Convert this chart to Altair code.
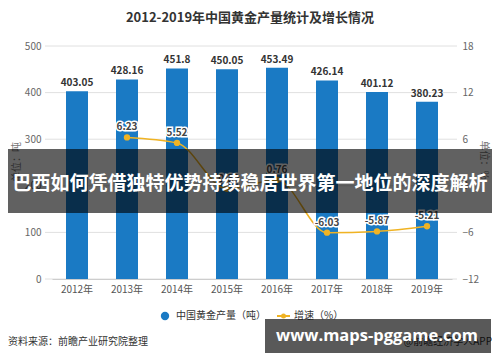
import altair as alt
import pandas as pd

years = ["2012年", "2013年", "2014年", "2015年", "2016年", "2017年", "2018年", "2019年"]
output = [403.05, 428.16, 451.8, 450.05, 453.49, 426.14, 401.12, 380.23]
output_labels = ["403.05", "428.16", "451.8", "450.05", "453.49", "426.14", "401.12", "380.23"]
growth = [None, 6.23, 5.52, -0.39, 0.76, -6.03, -5.87, -5.21]
growth_labels = ["", "6.23", "5.52", "-0.39", "0.76", "-6.03", "-5.87", "-5.21"]
left_ticks = [0, 100, 200, 300, 400, 500]
right_ticks = [-12, -6, 0, 6, 12, 18]

title_text = "2012-2019年中国黄金产量统计及增长情况"
banner_text = "巴西如何凭借独特优势持续稳居世界第一地位的深度解析"
site_text = "www.maps-pggame.com"
source_text = "资料来源：前瞻产业研究院整理"
credit_text = "@前瞻经济学人APP"
legend_bar = "中国黄金产量（吨）"
legend_line = "增速（%）"

FONT = "Noto Sans CJK SC"
BAR = "#1a7ac4"
LINE = "#f0b323"

df = pd.DataFrame({"year": years, "output": output, "olab": output_labels,
                   "growth": growth, "glab": growth_labels})
grid_df = pd.DataFrame({"v": left_ticks})

x_enc = alt.X("year:N", sort=years, title=None,
              scale=alt.Scale(paddingInner=0.56, paddingOuter=0.28),
              axis=alt.Axis(labelAngle=0, labelFontSize=10, labelColor="#555", labelFont=FONT,
                            labelPadding=5, ticks=False, domainColor="#bbb", grid=False))
yl_scale = alt.Scale(domain=[0, 500], nice=False, zero=False)
yr_scale = alt.Scale(domain=[-12, 18], nice=False, zero=False)
yl_axis = alt.Axis(values=left_ticks, title=None, ticks=False, domain=False, grid=False,
                   labelFontSize=10, labelColor="#666", labelPadding=11, labelFont=FONT)
yr_axis = alt.Axis(values=right_ticks, orient="right", title=None, ticks=False, domain=False,
                   grid=False, labelFontSize=10, labelColor="#666", labelPadding=10, labelFont=FONT)

grid = alt.Chart(grid_df).mark_rule(color="#e0e0e0", strokeWidth=1).encode(
    y=alt.Y("v:Q", scale=yl_scale, axis=yl_axis),
    x=alt.value(-7), x2=alt.value(405))

bars = alt.Chart(df).mark_bar(size=22, color=BAR).encode(
    x=x_enc, y=alt.Y("output:Q", scale=yl_scale, axis=yl_axis))

bar_labels = alt.Chart(df).mark_text(baseline="bottom", dy=-3, fontSize=10, fontWeight="bold",
                                     color="#333", font=FONT).encode(
    x=alt.X("year:N", sort=years), y=alt.Y("output:Q", scale=yl_scale, axis=yl_axis), text="olab:N")

left = alt.layer(grid, bars, bar_labels)

gdf = alt.Chart(df).transform_filter("isValid(datum.growth)")
line = gdf.mark_line(color=LINE, strokeWidth=1.5, interpolate="monotone").encode(
    x=alt.X("year:N", sort=years),
    y=alt.Y("growth:Q", scale=yr_scale, axis=yr_axis))
pts = gdf.mark_point(filled=True, size=40, color=LINE, opacity=1).encode(
    x=alt.X("year:N", sort=years), y=alt.Y("growth:Q", scale=yr_scale, axis=yr_axis))
glab_halo = gdf.mark_text(dy=-10, fontSize=10, fontWeight="bold", color="white", stroke="white",
                          strokeWidth=3, font=FONT).encode(
    x=alt.X("year:N", sort=years), y=alt.Y("growth:Q", scale=yr_scale, axis=yr_axis), text="glab:N")
glab = gdf.mark_text(dy=-10, fontSize=10, fontWeight="bold", color="#444", font=FONT).encode(
    x=alt.X("year:N", sort=years), y=alt.Y("growth:Q", scale=yr_scale, axis=yr_axis), text="glab:N")

right = alt.layer(line, pts, glab_halo, glab)

base = alt.Chart(pd.DataFrame({"a": [0]}))

def txt(s, x, y, **kw):
    return base.mark_text(font=FONT, **kw).encode(x=alt.value(x), y=alt.value(y), text=alt.value(s))

title = txt(title_text, 198, -28, fontSize=13, fontWeight="bold", color="#333", align="center")
ytitle_l = txt("单位：吨", -35, 116, fontSize=10, color="#777", angle=270, align="center", baseline="middle")
ytitle_r = txt("单位：%", 432, 114, fontSize=10, color="#777", angle=90, align="center", baseline="middle")

leg_dot = base.mark_point(filled=True, size=70, color=BAR, opacity=1).encode(
    x=alt.value(113), y=alt.value(270))
leg_t1 = txt(legend_bar, 124, 270, fontSize=10, color="#333", align="left", baseline="middle")
leg_line = base.mark_rule(color=LINE, strokeWidth=2).encode(
    x=alt.value(225), x2=alt.value(238), y=alt.value(270))
leg_pt = base.mark_point(filled=True, size=25, color=LINE, opacity=1).encode(
    x=alt.value(231.5), y=alt.value(270))
leg_t2 = txt(legend_line, 242, 270, fontSize=10, color="#333", align="left", baseline="middle")

source = txt(source_text, -44, 296, fontSize=10, color="#333", align="left", baseline="middle")
credit = txt(credit_text, 440, 296, fontSize=10, color="#333", align="right", baseline="middle")

banner_rect = base.mark_rect(color="black", opacity=0.62).encode(
    x=alt.value(-60), x2=alt.value(460), y=alt.value(103), y2=alt.value(167))
banner_t = txt(banner_text, 198, 138, fontSize=19, fontWeight="bold", color="white",
               align="center", baseline="middle")

site_rect = base.mark_rect(color="black", opacity=0.65).encode(
    x=alt.value(213), x2=alt.value(439), y=alt.value(273), y2=alt.value(307))
site_t = base.mark_text(font="Open Sans", fontSize=16.5, fontWeight="bold", color="white",
                        align="center", baseline="middle").encode(
    x=alt.value(325), y=alt.value(290), text=alt.value(site_text))

chart = alt.layer(
    left, right,
    title, ytitle_l, ytitle_r,
    leg_dot, leg_t1, leg_line, leg_pt, leg_t2,
    source, credit,
    banner_rect, banner_t,
    site_rect, site_t,
).resolve_scale(y="independent").properties(
    width=400, height=233,
    autosize=alt.AutoSizeParams(type="none"),
    padding={"left": 44, "top": 38, "right": 40, "bottom": 83},
    background="white",
).configure_view(stroke=None)

chart.save("out.html", embed_options={"renderer": "svg", "actions": False})
